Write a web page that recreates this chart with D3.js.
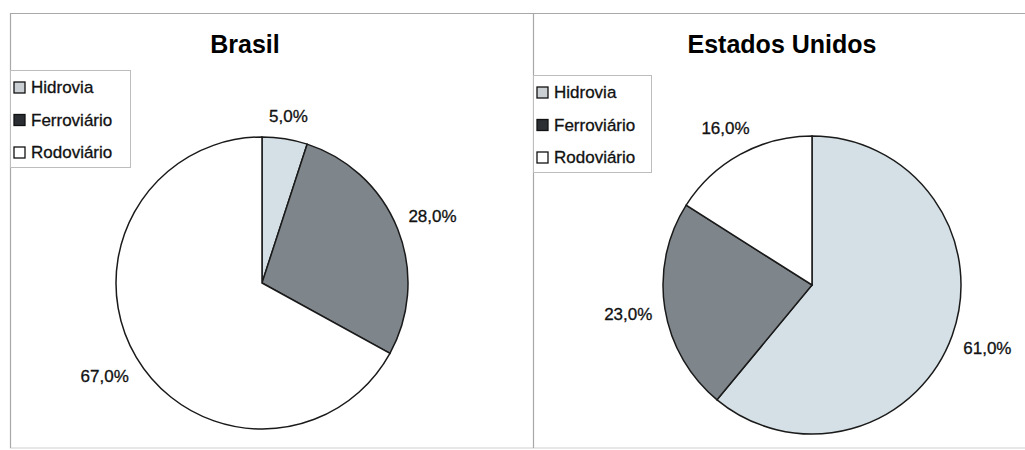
<!DOCTYPE html>
<html>
<head>
<meta charset="utf-8">
<script src="https://cdn.jsdelivr.net/npm/d3@7"></script>
<style>
  body { margin: 0; background: #fff; }
  svg { display: block; font-family: "Liberation Sans", Arial, sans-serif; }
</style>
</head>
<body>
<div id="chart"></div>
<script>
var width = 1025, height = 450;

// dados
var modais = ["Hidrovia", "Ferroviário", "Rodoviário"];
var paises = ["Brasil", "Estados Unidos"];
var brasil = [5, 28, 67];
var estadosUnidos = [61, 23, 16];
var cores = ["#d4e0e5", "#7f868b", "#ffffff"];
var coresLegenda = ["#c9cfd2", "#2b2f33", "#ffffff"];

var svg = d3.select("#chart").append("svg")
  .attr("width", width)
  .attr("height", height);

// molduras
var moldura = svg.append("g").attr("stroke", "#a8a8a8").attr("stroke-width", 1.2);
moldura.append("line").attr("x1", 10).attr("x2", width).attr("y1", 13.5).attr("y2", 13.5);
moldura.append("line").attr("x1", 10).attr("x2", width).attr("y1", 448).attr("y2", 448).attr("stroke", "#d0d0d0");
moldura.append("line").attr("x1", 10.5).attr("x2", 10.5).attr("y1", 13).attr("y2", 448);
moldura.append("line").attr("x1", 533.5).attr("x2", 533.5).attr("y1", 13).attr("y2", 448);

var color = d3.scaleOrdinal().domain(modais).range(cores);
var colorLeg = d3.scaleOrdinal().domain(modais).range(coresLegenda);
var fmt = function(v) { return d3.format(".1f")(v).replace(".", ",") + "%"; };

var paineis = [
  { titulo: paises[0], valores: brasil, cx: 262, cy: 283, r: 146, tx: 245, lx: 10, ly: 70, lw: 120 },
  { titulo: paises[1], valores: estadosUnidos, cx: 812, cy: 285, r: 149, tx: 782, lx: 533, ly: 75, lw: 118 }
];

var pie = d3.pie().sort(null).value(function(d) { return d.valor; });

paineis.forEach(function(p) {
  var dados = modais.map(function(m, i) { return { modal: m, valor: p.valores[i] }; });
  var arcos = pie(dados);
  var arc = d3.arc().innerRadius(0).outerRadius(p.r);

  svg.append("text")
    .attr("x", p.tx).attr("y", 53)
    .attr("text-anchor", "middle")
    .attr("font-size", 25).attr("font-weight", "bold")
    .text(p.titulo);

  var g = svg.append("g").attr("transform", "translate(" + p.cx + "," + p.cy + ")");

  g.selectAll("path")
    .data(arcos)
    .enter().append("path")
    .attr("d", arc)
    .attr("fill", function(d) { return color(d.data.modal); })
    .attr("stroke", "#1a1a1a")
    .attr("stroke-width", 1.5);

  // rotulos fora da pizza
  g.selectAll(".rotulo")
    .data(arcos)
    .enter().append("text")
    .attr("class", "rotulo")
    .attr("font-size", 17)
    .attr("fill", "#111")
    .attr("stroke", "#111").attr("stroke-width", 0.3)
    .attr("text-anchor", "middle")
    .text(function(d) { return fmt(d.data.valor); })
    .each(function(d) {
      var w = this.getComputedTextLength();
      var a = (d.startAngle + d.endAngle) / 2;
      var s = Math.sin(a), c = Math.cos(a);
      var dist = p.r + 12 + Math.abs(s) * w / 2 + Math.abs(c) * 8;
      d3.select(this)
        .attr("x", s * dist)
        .attr("y", -c * dist + 6);
    });

  // legenda
  var leg = svg.append("g").attr("transform", "translate(" + p.lx + "," + p.ly + ")");
  leg.append("rect")
    .attr("x", 0.5).attr("y", 0.5)
    .attr("width", p.lw).attr("height", 97)
    .attr("fill", "#fff").attr("stroke", "#bdbdbd");
  var itens = leg.selectAll(".item")
    .data(modais)
    .enter().append("g")
    .attr("class", "item")
    .attr("transform", function(d, i) { return "translate(4," + (17 + i * 32.5) + ")"; });
  itens.append("rect")
    .attr("x", 0).attr("y", -5)
    .attr("width", 11).attr("height", 11)
    .attr("fill", function(d) { return colorLeg(d); })
    .attr("stroke", "#111").attr("stroke-width", 1.3);
  itens.append("text")
    .attr("x", 17).attr("y", 6)
    .attr("font-size", 17)
    .attr("fill", "#111")
    .attr("stroke", "#111").attr("stroke-width", 0.3)
    .text(function(d) { return d; });
});
</script>
</body>
</html>
